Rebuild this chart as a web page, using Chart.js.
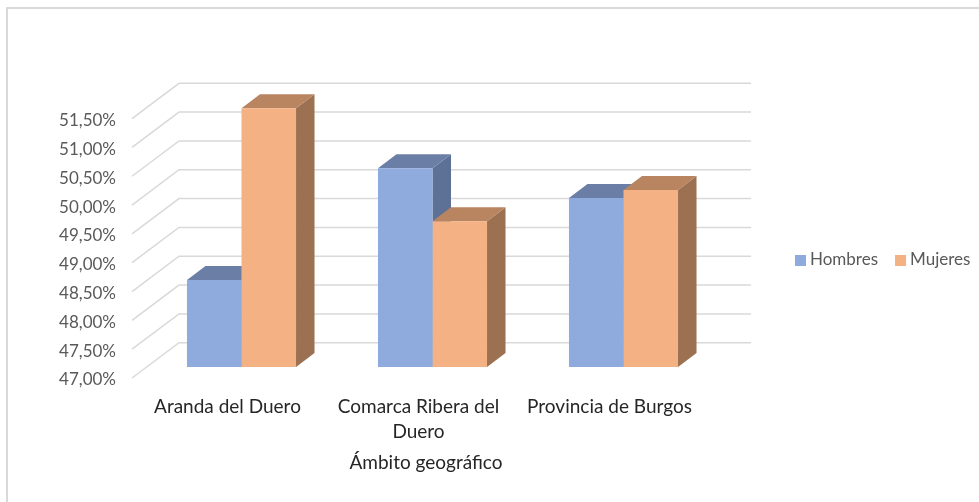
<!DOCTYPE html>
<html>
<head>
<meta charset="utf-8">
<style>
  html,body{margin:0;padding:0;background:#fff;overflow:hidden;}
  #wrap{position:absolute;left:0;top:0;width:979px;height:502px;overflow:hidden;}
  #frame{position:absolute;left:6px;top:7px;width:980px;height:500px;border:2px solid #d9d9d9;box-sizing:border-box;}
  #chart{position:absolute;left:0;top:0;}
</style>
</head>
<body>
<div id="wrap">
  <div id="frame"></div>
  <canvas id="chart" width="979" height="502"></canvas>
</div>
<script src="https://cdn.jsdelivr.net/npm/chart.js@4"></script>
<script>
const categories = ['Aranda del Duero', ['Comarca Ribera del', 'Duero'], 'Provincia de Burgos'];
const hombres = [48.51, 50.45, 49.93];
const mujeres = [51.49, 49.53, 50.07];
const axisTitle = 'Ámbito geográfico';
const yMin = 47;
const yMax = 51.5;

const font = 'Lato, Carlito, Calibri, sans-serif';
// front, top and side faces of each series
const faces = {
  Hombres: { front:'#8faadc', top:'#6b7fa6', side:'#5d7095' },
  Mujeres: { front:'#f4b183', top:'#b98460', side:'#9c7151' }
};

// 3d look: offsets of the bar depth and of the wall/floor lines
const depth = { x:18.5, y:14 };
const wall = { back:179, right:751, front:132, up:24.3, down:11 };

function poly(ctx, pts, color){
  ctx.fillStyle = color;
  ctx.beginPath();
  pts.forEach((p,i)=>{ i ? ctx.lineTo(p[0],p[1]) : ctx.moveTo(p[0],p[1]) });
  ctx.closePath();
  ctx.fill();
}

const fake3d = {
  id:'fake3d',
  beforeDatasetsDraw(chart){
    const ctx = chart.ctx;
    const y = chart.scales.y;
    // wall lines, from the scale ticks
    ctx.save();
    ctx.strokeStyle = '#d9d9d9';
    ctx.lineWidth = 1.5;
    y.ticks.forEach(t=>{
      const py = y.getPixelForValue(t.value);
      ctx.beginPath();
      ctx.moveTo(wall.front, py + wall.down);
      ctx.lineTo(wall.back, py - wall.up);
      ctx.lineTo(wall.right, py - wall.up);
      ctx.stroke();
    });
    // top and side of bars, the library paints the fronts after this
    chart.data.datasets.forEach((ds,i)=>{
      const f = faces[ds.label];
      chart.getDatasetMeta(i).data.forEach(bar=>{
        const p = bar.getProps(['x','y','base','width'], true);
        const l = p.x - p.width/2, r = p.x + p.width/2;
        poly(ctx, [[r,p.base],[r+depth.x,p.base-depth.y],[r+depth.x,p.y-depth.y],[r,p.y]], f.side);
        poly(ctx, [[l,p.y],[l+depth.x,p.y-depth.y],[r+depth.x,p.y-depth.y],[r,p.y]], f.top);
      });
    });
    ctx.restore();
  },
  afterDraw(chart){
    const ctx = chart.ctx;
    ctx.save();
    // axis title sits left of the scale centre
    ctx.font = '19px ' + font;
    ctx.fillStyle = '#262626';
    ctx.textAlign = 'center';
    ctx.textBaseline = 'middle';
    ctx.fillText(axisTitle, 426, 463);
    // legend in one row on the right
    ctx.textAlign = 'left';
    ctx.font = '17px ' + font;
    let x = 795;
    chart.data.datasets.forEach(ds=>{
      ctx.fillStyle = ds.backgroundColor;
      ctx.fillRect(x, 255, 11, 11);
      ctx.fillStyle = '#595959';
      ctx.fillText(ds.label, x + 15, 260);
      x += 15 + ctx.measureText(ds.label).width + 17;
    });
    ctx.restore();
  }
};

new Chart(document.getElementById('chart'), {
  type:'bar',
  data:{
    labels:categories,
    datasets:[
      { label:'Hombres', data:hombres, backgroundColor:faces.Hombres.front },
      { label:'Mujeres', data:mujeres, backgroundColor:faces.Mujeres.front }
    ]
  },
  options:{
    responsive:false,
    animation:false,
    layout:{ padding:{ left:0, right:260, top:107.6, bottom:0 } },
    plugins:{ legend:{display:false}, tooltip:{enabled:false} },
    datasets:{ bar:{ categoryPercentage:0.571, barPercentage:1, base:yMin } },
    scales:{
      x:{
        grid:{display:false, drawTicks:false},
        border:{display:false},
        ticks:{
          color:'#262626', font:{family:font, size:19, lineHeight:1.32}, maxRotation:0, autoSkip:false,
          labelOffset:-14, padding:27
        },
        afterFit(s){ s.height = 135 }
      },
      y:{
        min:yMin, max:yMax,
        grid:{display:false, drawTicks:false},
        border:{display:false},
        ticks:{
          stepSize:0.5, color:'#595959', font:{family:font, size:17}, padding:30,
          labelOffset:13,
          callback:v=>v.toFixed(2).replace('.',',')+'%'
        },
        afterFit(s){ s.width = 146 }
      }
    }
  },
  plugins:[fake3d]
});
</script>
</body>
</html>
